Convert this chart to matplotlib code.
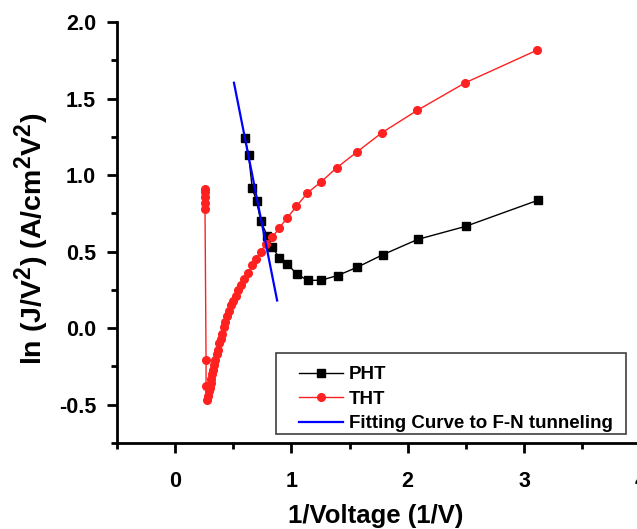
import matplotlib
matplotlib.use('Agg')
import matplotlib.pyplot as plt
from matplotlib.ticker import MultipleLocator, FormatStrFormatter
from matplotlib.patches import Rectangle

try:
    import matplotlib._mathtext as _mt
    _mt.SHRINK_FACTOR = 0.8
except Exception:
    pass

plt.rcParams['font.family'] = ['Liberation Sans', 'DejaVu Sans']
plt.rcParams['font.weight'] = 'bold'
plt.rcParams['mathtext.fontset'] = 'custom'
plt.rcParams['mathtext.rm'] = 'Liberation Sans:bold'
plt.rcParams['mathtext.it'] = 'Liberation Sans:bold'
plt.rcParams['mathtext.bf'] = 'Liberation Sans:bold'
plt.rcParams['mathtext.default'] = 'bf'

# ---- data ----
pht_x = [0.600, 0.632, 0.663, 0.700, 0.737, 0.794, 0.837, 0.897, 0.965, 1.045,
         1.143, 1.254, 1.397, 1.563, 1.786, 2.086, 2.497, 3.117]
pht_y = [1.243, 1.130, 0.914, 0.830, 0.698, 0.601, 0.529, 0.457, 0.421, 0.353,
         0.312, 0.313, 0.344, 0.397, 0.480, 0.580, 0.665, 0.835]

tht_x = [0.258, 0.258, 0.257, 0.257, 0.257, 0.266, 0.266,
         0.278, 0.284, 0.291, 0.298, 0.305, 0.3125, 0.321, 0.329, 0.338, 0.347,
         0.357, 0.368, 0.379, 0.391, 0.403, 0.417, 0.431, 0.446, 0.463, 0.481,
         0.500, 0.521, 0.543, 0.568, 0.595, 0.625, 0.658, 0.694, 0.735, 0.781,
         0.837, 0.897, 0.960, 1.043, 1.137, 1.251, 1.388, 1.563, 1.780, 2.080,
         2.494, 3.114]
tht_y = [0.91, 0.89, 0.86, 0.82, 0.78, -0.205, -0.376,
         -0.467, -0.44, -0.41, -0.39, -0.36, -0.33, -0.30, -0.27, -0.24, -0.21,
         -0.17, -0.14, -0.10, -0.07, -0.04, 0.01, 0.04, 0.08, 0.11, 0.15,
         0.18, 0.21, 0.25, 0.28, 0.32, 0.36, 0.41, 0.45, 0.50, 0.55,
         0.595, 0.656, 0.717, 0.796, 0.883, 0.953, 1.047, 1.151, 1.278, 1.422,
         1.603, 1.817]

fit_x = [0.506, 0.877]
fit_y = [1.603, 0.181]

labels = ["PHT", "THT", "Fitting Curve to F-N tunneling"]

# ---- figure ----
fig = plt.figure(figsize=(6.37, 5.29), dpi=100)
ax = fig.add_axes([0.1836, 0.1626, 0.913, 0.7958])

ax.plot(pht_x, pht_y, color='black', lw=1, marker='s', ms=5.5, label=labels[0])
ax.plot(tht_x, tht_y, color='#ff2020', lw=1, marker='o', ms=5.5, label=labels[1])
ax.plot(fit_x, fit_y, color='blue', lw=1.6, label=labels[2])

ax.set_xlim(-0.5, 4.5)
ax.set_ylim(-0.75, 2.0)
ax.xaxis.set_major_locator(MultipleLocator(1))
ax.xaxis.set_minor_locator(MultipleLocator(0.5))
ax.yaxis.set_major_locator(MultipleLocator(0.5))
ax.yaxis.set_minor_locator(MultipleLocator(0.25))
ax.yaxis.set_major_formatter(FormatStrFormatter('%.1f'))

for s in ['top', 'right']:
    ax.spines[s].set_visible(False)
for s in ['left', 'bottom']:
    ax.spines[s].set_linewidth(2)

ax.tick_params(which='major', direction='out', length=7, width=2, labelsize=15.5)
ax.tick_params(which='minor', direction='out', length=4, width=2)
ax.tick_params(axis='x', which='major', pad=13)
ax.tick_params(axis='y', which='major', pad=8)
for lab in ax.get_xticklabels() + ax.get_yticklabels():
    lab.set_fontweight('bold')

ax.set_xlabel('1/Voltage (1/V)', fontsize=18.5, fontweight='bold')
ax.xaxis.set_label_coords(0.445, -0.145)
ax.set_ylabel(r'ln (J/V$^2$) (A/cm$^2$V$^2$)', fontsize=20.5, fontweight='bold')
ax.yaxis.set_label_coords(-0.112, 0.484)

# legend frame
frame = Rectangle((0.2735, 0.0214), 0.6018, 0.1931, transform=ax.transAxes,
                  facecolor='white', edgecolor='#404040', lw=1.2, zorder=4,
                  clip_on=False)
ax.add_patch(frame)
leg = ax.legend(loc='upper left', bbox_to_anchor=(0.313, 0.183), borderaxespad=0,
                numpoints=1, handlelength=2.35, handletextpad=0.32,
                borderpad=0, labelspacing=0.4, frameon=False,
                prop={'weight': 'bold', 'size': 13.5})
leg.set_zorder(5)

fig.savefig('out.png', dpi=100)
